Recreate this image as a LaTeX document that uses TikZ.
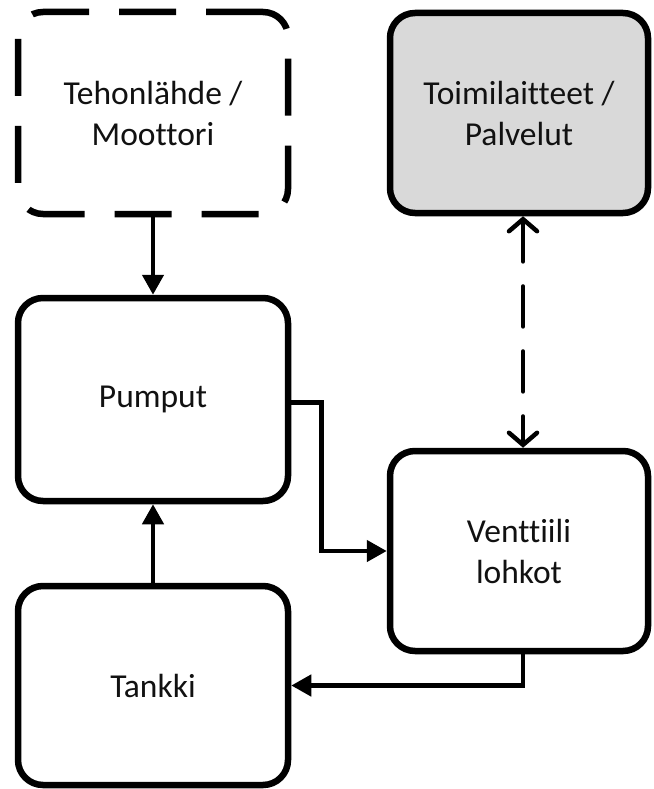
\documentclass[tikz,border=0pt]{standalone}
\usepackage{fontspec}
\setmainfont[Ligatures={NoCommon}]{Carlito}
\usepackage{tikz}
\usetikzlibrary{arrows.meta,positioning,calc}
\definecolor{HydInk}{HTML}{000000}
\definecolor{HydText}{HTML}{111111}
\definecolor{HydPaleGray}{HTML}{D9D9D9}
\tikzset{
  flow/.style={-{Triangle[length=20pt,width=21pt]}, line width=4.5pt, draw=HydInk},
  signal/.style={{Straight Barb[length=12pt,width=28pt,line cap=round]}-{Straight Barb[length=12pt,width=28pt,line cap=round]},
                 line width=4.5pt, draw=HydInk, line cap=round, dash pattern=on 40pt off 25pt},
  unit/.style={rounded corners=25pt, draw=HydInk, fill=white, line width=6.5pt,
               align=center, inner sep=0pt, text=HydText,
               font=\fontsize{33.5}{41}\selectfont},
  colA/.style={unit, minimum width=270pt},
  colB/.style={unit, minimum width=258pt},
  source/.style={colA, dash pattern=on 57pt off 30pt},
  load/.style={colB, fill=HydPaleGray},
}

\begin{document}
\begin{tikzpicture}[x=1pt,y=-1pt]
        \useasboundingbox (0,0) rectangle (653,789);
        % vasen sarake
        \node[source, minimum height=202pt] (motor) at (153,113) {Tehonlähde /\\Moottori};
        \node[colA, minimum height=203pt] (pump) at (153,399.5) {Pumput};
        \node[colA, minimum height=199pt] (tank) at (153,685.5) {Tankki};
        % oikea sarake
        \node[load, minimum height=200pt] (act) at (519,113) {Toimilaitteet /\\Palvelut};
        \node[colB, minimum height=200pt] (valve) at (519,551) {Venttiili\\lohkot};
        % yhteydet
        \draw[flow] (motor.south) -- (pump.north);
        \draw[flow] (tank.north) -- (pump.south);
        \draw[flow] ($(pump.east)+(0,3)$) -- ++(30,0) |- (valve.west);
        \draw[flow] ($(valve.south)+(4,0)$) |- (tank.east);
        \draw[signal] ($(act.south)+(4,0)$) -- ($(valve.north)+(4,0)$);
      \end{tikzpicture}
\end{document}
